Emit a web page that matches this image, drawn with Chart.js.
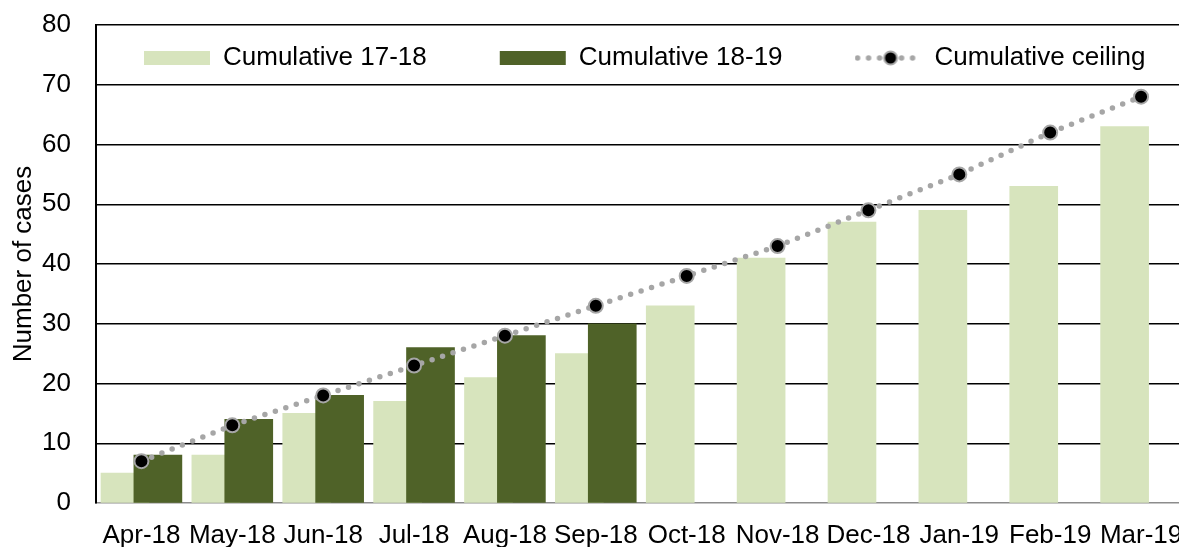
<!DOCTYPE html>
<html>
<head>
<meta charset="utf-8">
<script src="https://cdn.jsdelivr.net/npm/chart.js@4"></script>
<style>
html,body{margin:0;padding:0;overflow:hidden;background:#fff}
#wrap{width:1200px;height:547px}
canvas{display:block}
</style>
</head>
<body>
<div id="wrap"><canvas id="c" width="1200" height="547"></canvas></div>
<script>
// ---- data ----
const categories = ['Apr-18','May-18','Jun-18','Jul-18','Aug-18','Sep-18','Oct-18','Nov-18','Dec-18','Jan-19','Feb-19','Mar-19'];
const cumulative1718 = [5, 8, 15, 17, 21, 25, 33, 41, 47, 49, 53, 63];
const cumulative1819 = [8, 14, 18, 26, 28, 30, null, null, null, null, null, null];
const cumulativeCeiling = [7, 13, 18, 23, 28, 33, 38, 43, 49, 55, 62, 68];
const seriesNames = ['Cumulative 17-18', 'Cumulative 18-19', 'Cumulative ceiling'];
const yMin = 0, yMax = 80, yStep = 10;
const yTitle = 'Number of cases';

// ---- styling ----
const FONT = "'Liberation Sans', Arial, sans-serif";
const LIGHT = '#D7E4BD', DARK = '#4F6228', LINEGREY = '#A6A6A6';
const SHIFT = 0.181; // bar offset from category centre (in category units)

const toPts = arr => arr.map((v, i) => ({x: i, y: v})).filter(p => p.y !== null);

// legend icon for the line series (dotted line with marker)
const icon = document.createElement('canvas');
icon.width = 68; icon.height = 18;
(function(){
  const g = icon.getContext('2d');
  g.strokeStyle = LINEGREY; g.lineWidth = 5.5; g.lineCap = 'round';
  g.setLineDash([0, 11]);
  g.beginPath(); g.moveTo(3, 9); g.lineTo(66, 9); g.stroke();
  g.setLineDash([]);
  g.beginPath(); g.arc(36, 9, 6.5, 0, Math.PI * 2);
  g.fillStyle = '#000'; g.fill();
  g.lineWidth = 2; g.strokeStyle = LINEGREY; g.stroke();
})();

const legendPlacer = {
  id: 'legendPlacer',
  afterLayout(chart) {
    const lg = chart.legend;
    if (!lg) return;
    const p = lg.options.labels.padding;
    lg.left = 144 - p;
    lg.top = 45 - p;
    lg.right = chart.width + 400;
    lg.bottom = 120;
  }
};

new Chart(document.getElementById('c'), {
  type: 'bar',
  data: {
    labels: categories,
    datasets: [
      {
        label: seriesNames[0],
        data: toPts(cumulative1718),
        xAxisID: 'xL',
        backgroundColor: LIGHT,
        borderWidth: 0,
        grouped: false,
        barThickness: 48,
        order: 3
      },
      {
        label: seriesNames[1],
        data: toPts(cumulative1819),
        xAxisID: 'xD',
        backgroundColor: DARK,
        borderWidth: 0,
        grouped: false,
        barThickness: 48,
        order: 2
      },
      {
        type: 'line',
        label: seriesNames[2],
        data: cumulativeCeiling,
        xAxisID: 'x',
        borderColor: LINEGREY,
        backgroundColor: '#000',
        borderWidth: 5.5,
        borderDash: [0, 11],
        borderCapStyle: 'round',
        pointRadius: 7,
        pointBackgroundColor: '#000',
        pointBorderColor: LINEGREY,
        pointBorderWidth: 2,
        tension: 0,
        fill: false,
        order: 1
      }
    ]
  },
  options: {
    responsive: false,
    animation: false,
    devicePixelRatio: 1,
    layout: { padding: { top: 24, right: 13.5, left: 0, bottom: 0 } },
    plugins: {
      tooltip: { enabled: false },
      legend: {
        position: 'top',
        align: 'start',
        maxHeight: 1,
        labels: {
          font: { family: FONT, size: 26 },
          color: '#000',
          usePointStyle: true,
          pointStyleWidth: 66,
          boxHeight: 14,
          padding: 73,
          sort: (a, b) => a.datasetIndex - b.datasetIndex,
          generateLabels(chart) {
            const items = Chart.defaults.plugins.legend.labels.generateLabels(chart);
            items.forEach(it => {
              if (it.datasetIndex === 2) { it.pointStyle = icon; }
              else { it.pointStyle = 'rect'; it.lineWidth = 0; }
            });
            return items;
          }
        }
      }
    },
    scales: {
      x: {
        type: 'category',
        position: 'bottom',
        offset: true,
        grid: { display: false, drawTicks: false },
        border: { display: true, color: '#8C8C8C', width: 1.5 },
        ticks: {
          font: { family: FONT, size: 26 },
          color: '#000',
          padding: 17,
          maxRotation: 0,
          autoSkip: false
        },
        afterFit: s => { s.height = 44; }
      },
      xL: {
        type: 'linear',
        display: false,
        bounds: 'data',
        offset: false,
        min: -0.5 + SHIFT,
        max: 11.5 + SHIFT
      },
      xD: {
        type: 'linear',
        display: false,
        bounds: 'data',
        offset: false,
        min: -0.5 - SHIFT,
        max: 11.5 - SHIFT
      },
      y: {
        position: 'left',
        min: yMin,
        max: yMax,
        ticks: {
          stepSize: yStep,
          font: { family: FONT, size: 26 },
          color: '#000',
          padding: 25
        },
        grid: {
          drawTicks: false,
          color: ctx => (ctx.tick && ctx.tick.value === 0) ? 'rgba(0,0,0,0)' : '#000',
          lineWidth: 1.4
        },
        border: { display: true, color: '#000', width: 2 },
        title: {
          display: true,
          text: yTitle,
          color: '#000',
          font: { family: FONT, size: 26 },
          padding: { top: 8, bottom: 0 }
        },
        afterFit: s => { s.width = 96; s.paddingTop = 10; s.paddingBottom = 10; }
      }
    }
  },
  plugins: [legendPlacer]
});
</script>
</body>
</html>
